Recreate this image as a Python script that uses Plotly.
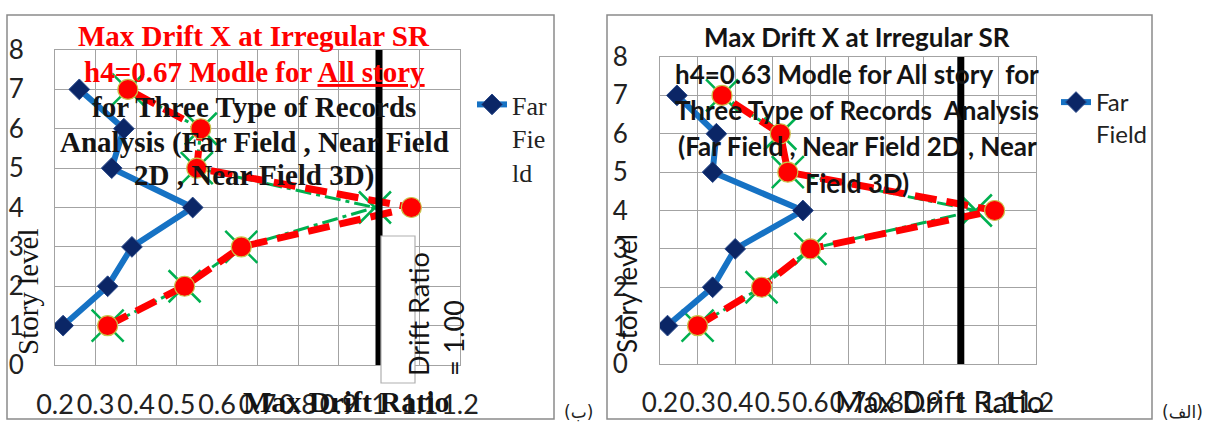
import plotly.graph_objects as go

W, H = 1210, 423

# ---------------- data ----------------
story_levels = [1, 2, 3, 4, 5, 6, 7]

# panel (ب)  h4 = 0.67
far_b = [0.22, 0.33, 0.39, 0.54, 0.34, 0.37, 0.26]
near2d_b = [0.33, 0.52, 0.66, 1.08, 0.55, 0.56, 0.38]
near3d_b = [0.33, 0.52, 0.66, 0.99, 0.55, 0.56, 0.38]

# panel (الف)  h4 = 0.63
far_a = [0.22, 0.34, 0.40, 0.58, 0.34, 0.35, 0.245]
near2d_a = [0.30, 0.47, 0.60, 1.09, 0.54, 0.52, 0.365]
near3d_a = [0.30, 0.47, 0.60, 1.04, 0.54, 0.52, 0.365]

limit_x = [1.0, 1.0]
limit_y = [0, 8]

x_tickvals = [0.2, 0.3, 0.4, 0.5, 0.6, 0.7, 0.8, 0.9, 1.0, 1.1, 1.2]
x_ticktext = ["0.2", "0.3", "0.4", "0.5", "0.6", "0.7", "0.8", "0.9", "1", "1.1", "1.2"]
y_tickvals = [0, 1, 2, 3, 4, 5, 6, 7, 8]
y_ticktext = ["0", "1", "2", "3", "4", "5", "6", "7", "8"]

title_b_lines = [
    "<span style='color:#FF0000'>Max Drift X at Irregular SR</span>",
    "<span style='color:#FF0000'>h4=0.67 Modle for <u>All story</u></span>",
    "for Three Type of Records",
    "Analysis (Far Field , Near Field",
    "2D , Near Field 3D)",
]
title_a_lines = [
    "Max Drift X at Irregular SR",
    "h4=0.63 Modle for All story  for",
    "Three Type of Records  Analysis",
    "(Far Field , Near Field 2D , Near",
    "Field 3D)",
]


def px(x):
    return x / W


def py(y):
    return 1 - y / H


SERIF = "Liberation Serif"
SANS = "Lato"
BLUE = "#1672C4"
NAVY = "#0B2666"
RED = "#FF0000"
GREEN = "#00B050"
GRID = "#a3a3a3"
INK = "#141414"

fig = go.Figure()


def add_panel(xa, ya, far, n2d, n3d, legend, far_label):
    # Near Field 3D (green, under)
    fig.add_trace(go.Scatter(
        x=n3d, y=story_levels, xaxis=xa, yaxis=ya, name="Near Field 3D",
        mode="lines+markers", showlegend=False,
        line=dict(color=GREEN, width=3, dash="16px,5px,4px,5px"),
        marker=dict(symbol="x-thin", size=32, line=dict(color=GREEN, width=2.5)),
    ))
    # Near Field 2D (red)
    fig.add_trace(go.Scatter(
        x=n2d, y=story_levels, xaxis=xa, yaxis=ya, name="Near Field 2D",
        mode="lines+markers", showlegend=False,
        line=dict(color=RED, width=7, dash="22px,10px"),
        marker=dict(symbol="circle", size=20, color=RED,
                    line=dict(color="#C9C24A", width=1.2)),
    ))
    # Far Field (blue)
    fig.add_trace(go.Scatter(
        x=far, y=story_levels, xaxis=xa, yaxis=ya, name=far_label,
        mode="lines+markers", legend=legend,
        line=dict(color=BLUE, width=6),
        marker=dict(symbol="diamond", size=16, color=NAVY,
                    line=dict(color="#2A4A8A", width=1)),
    ))
    # Drift ratio = 1.00 limit line
    fig.add_trace(go.Scatter(
        x=limit_x, y=limit_y, xaxis=xa, yaxis=ya, name="Drift Ratio = 1.00",
        mode="lines", showlegend=False,
        line=dict(color="black", width=7),
    ))


add_panel("x", "y", far_b, near2d_b, near3d_b, "legend", "Far<br>Fie<br>ld")
add_panel("x2", "y2", far_a, near2d_a, near3d_a, "legend2", "Far<br>Field")

axis_common = dict(showgrid=True, gridcolor=GRID, gridwidth=1, zeroline=False,
                   showline=True, linecolor=GRID, linewidth=1, mirror=True,
                   ticks="outside", tickcolor="rgba(0,0,0,0)", automargin=False,
                   tickangle=0, fixedrange=True)

tfont = dict(family=SANS, size=26, color="#222222")
tfont_b = dict(family=SANS, size=27, color="#222222")

fig.update_layout(
    width=W, height=H,
    margin=dict(l=0, r=0, t=0, b=0, autoexpand=False),
    paper_bgcolor="white", plot_bgcolor="white",
    xaxis=dict(domain=[px(55), px(460)], range=[0.2, 1.2], anchor="y",
               tickvals=x_tickvals, ticktext=x_ticktext, tickfont=tfont_b,
               ticklen=16, **axis_common),
    yaxis=dict(domain=[py(365), py(50)], range=[0, 8], anchor="x",
               tickvals=y_tickvals, ticktext=y_ticktext, tickfont=tfont,
               ticklen=25, **axis_common),
    xaxis2=dict(domain=[px(660), px(1036)], range=[0.2, 1.2], anchor="y2",
                tickvals=x_tickvals, ticktext=x_ticktext, tickfont=tfont,
                ticklen=16, **axis_common),
    yaxis2=dict(domain=[py(364), py(57)], range=[0, 8], anchor="x2",
                tickvals=y_tickvals, ticktext=y_ticktext, tickfont=tfont,
                ticklen=26, **axis_common),
    legend=dict(x=px(472), y=py(81), xanchor="left", yanchor="top",
                bgcolor="rgba(0,0,0,0)", itemwidth=30, valign="top",
                font=dict(family=SERIF, size=26, color="#222222")),
    legend2=dict(x=px(1056), y=py(80), xanchor="left", yanchor="top",
                 bgcolor="rgba(0,0,0,0)", itemwidth=30, valign="top",
                 font=dict(family=SANS, size=24, color="#222222")),
    showlegend=True,
)

shapes = [
    dict(type="rect", xref="paper", yref="paper", x0=px(7), x1=px(554), y0=py(419), y1=py(15),
         line=dict(color="#8a8a8a", width=1.5), layer="below"),
    dict(type="rect", xref="paper", yref="paper", x0=px(607), x1=px(1152), y0=py(419), y1=py(15),
         line=dict(color="#8a8a8a", width=1.5), layer="below"),
    dict(type="rect", xref="paper", yref="paper", x0=px(381), x1=px(415), y0=py(383), y1=py(236),
         line=dict(color="#b0b0b0", width=1.2), fillcolor="white", layer="above"),
]
fig.update_layout(shapes=shapes)

ann = []
title_b_y = [36, 72, 107, 142, 176]
for t, yy in zip(title_b_lines, title_b_y):
    ann.append(dict(text="<b>" + t + "</b>", x=px(254), y=py(yy), xref="paper", yref="paper",
                    xanchor="center", yanchor="middle", showarrow=False,
                    font=dict(family=SERIF, size=29, color=INK)))
title_a_y = [37, 74, 110, 146, 183]
for t, yy in zip(title_a_lines, title_a_y):
    ann.append(dict(text="<b>" + t + "</b>", x=px(857), y=py(yy), xref="paper", yref="paper",
                    xanchor="center", yanchor="middle", showarrow=False,
                    font=dict(family=SANS, size=26, color=INK)))

ann += [
    dict(text="<b>Max Drift Ratio</b>", x=px(346), y=py(401), xref="paper", yref="paper",
         xanchor="center", yanchor="middle", showarrow=False,
         font=dict(family=SERIF, size=30, color=INK)),
    dict(text="Max Drift Ratio", x=px(939), y=py(401), xref="paper", yref="paper",
         xanchor="center", yanchor="middle", showarrow=False,
         font=dict(family=SANS, size=31, color=INK)),
    dict(text="Story level", x=px(28), y=py(292), xref="paper", yref="paper",
         xanchor="center", yanchor="middle", showarrow=False, textangle=-90,
         font=dict(family=SERIF, size=29, color=INK)),
    dict(text="Story level", x=px(627), y=py(294), xref="paper", yref="paper",
         xanchor="center", yanchor="middle", showarrow=False, textangle=-90,
         font=dict(family=SANS, size=26, color=INK)),
    dict(text="Drift Ratio<br>= 1.00", x=px(436), y=py(314), xref="paper", yref="paper",
         xanchor="center", yanchor="middle", showarrow=False, textangle=-90, align="left",
         font=dict(family=SANS, size=27, color=INK)),
    dict(text="(ب)", x=px(578), y=py(412), xref="paper", yref="paper",
         xanchor="center", yanchor="middle", showarrow=False,
         font=dict(family="DejaVu Sans", size=17, color="#222222")),
    dict(text="(الف)", x=px(1182), y=py(412), xref="paper", yref="paper",
         xanchor="center", yanchor="middle", showarrow=False,
         font=dict(family="DejaVu Sans", size=17, color="#222222")),
]
fig.update_layout(annotations=ann)

fig.write_html(
    "out.html",
    config={"displayModeBar": False},
    post_script="document.body.style.margin='0px';document.body.style.overflow='hidden';",
)
